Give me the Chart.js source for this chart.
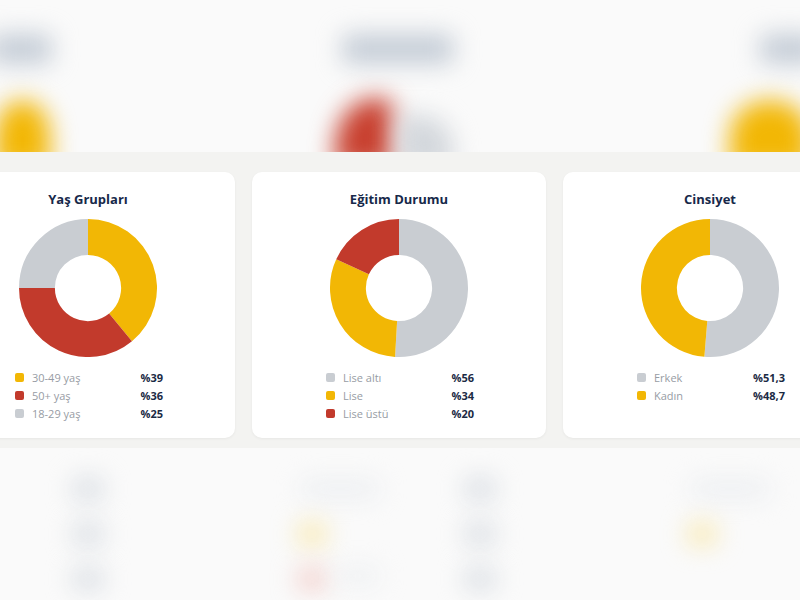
<!DOCTYPE html>
<html>
<head>
<meta charset="utf-8">
<script src="https://cdn.jsdelivr.net/npm/chart.js@4.4.0/dist/chart.umd.min.js"></script>
<style>
    html, body { margin: 0; padding: 0; }
    body {
        width: 800px; height: 600px; overflow: hidden; position: relative;
        background: #fafafa;
        font-family: "Open Sans", "Noto Sans", sans-serif;
    }
    .blob { position: absolute; filter: blur(12px); border-radius: 8px; }
    .band {
        position: absolute; left: 0; top: 152px; width: 800px; height: 296px;
        background: #f3f3f1;
    }
    .card {
        position: absolute; top: 172px; width: 294px; height: 266px;
        background: #fff; border-radius: 10px;
        box-shadow: 0 1px 3px rgba(0, 0, 0, 0.05);
    }
    .card h3 {
        margin: 0; position: absolute; top: 18px; width: 100%; text-align: center;
        font-size: 13px; font-weight: 700; color: #17294a;
    }
    .card .chartBox { position: absolute; left: 78px; top: 47px; width: 138px; height: 138px; }
    .legend { position: absolute; left: 74px; top: 196px; width: 148px; }
    .row { height: 18px; display: flex; align-items: center; font-size: 11px; }
    .sw { width: 9px; height: 9px; border-radius: 2px; margin-right: 8px; }
    .lbl { color: #979ca4; flex: 1; }
    .val { color: #1b2a44; font-weight: 700; }
</style>
</head>
<body>
<!-- blurred page behind -->
<div class="blob" style="left:-10px;top:34px;width:62px;height:30px;background:#c4ccd6"></div>
<div class="blob" style="left:342px;top:34px;width:112px;height:30px;background:#c4ccd6"></div>
<div class="blob" style="left:760px;top:34px;width:60px;height:30px;background:#c4ccd6"></div>
<div class="blob" style="left:-5px;top:100px;width:55px;height:70px;background:#f2b705;border-radius:50% 50% 0 0"></div>
<div class="blob" style="left:335px;top:98px;width:58px;height:70px;background:#c8402f;border-radius:70% 20% 0 0"></div>
<div class="blob" style="left:398px;top:115px;width:55px;height:55px;background:#d3d7dc;border-radius:0 60% 0 0"></div>
<div class="blob" style="left:730px;top:100px;width:80px;height:70px;background:#f2b705;border-radius:50% 50% 0 0"></div>

<div class="blob" style="left:72px;top:477px;width:32px;height:24px;background:#dce0e5"></div>
<div class="blob" style="left:72px;top:522px;width:32px;height:24px;background:#dce0e5"></div>
<div class="blob" style="left:72px;top:567px;width:32px;height:24px;background:#dce0e5"></div>
<div class="blob" style="left:300px;top:480px;width:80px;height:18px;background:#eceef1"></div>
<div class="blob" style="left:297px;top:522px;width:30px;height:24px;background:#f9eab6"></div>
<div class="blob" style="left:297px;top:567px;width:30px;height:24px;background:#f3d2ce"></div>
<div class="blob" style="left:335px;top:567px;width:45px;height:18px;background:#eef0f2"></div>
<div class="blob" style="left:464px;top:477px;width:32px;height:24px;background:#dce0e5"></div>
<div class="blob" style="left:464px;top:522px;width:32px;height:24px;background:#dce0e5"></div>
<div class="blob" style="left:464px;top:567px;width:32px;height:24px;background:#dce0e5"></div>
<div class="blob" style="left:690px;top:480px;width:80px;height:18px;background:#eceef1"></div>
<div class="blob" style="left:687px;top:522px;width:30px;height:24px;background:#f9eab6"></div>

<div class="band"></div>

<div class="card" style="left:-59px">
    <h3>Yaş Grupları</h3>
    <div class="chartBox"><canvas id="chart1"></canvas></div>
    <div class="legend" id="legend1"></div>
</div>
<div class="card" style="left:252px">
    <h3>Eğitim Durumu</h3>
    <div class="chartBox"><canvas id="chart2"></canvas></div>
    <div class="legend" id="legend2"></div>
</div>
<div class="card" style="left:563px">
    <h3>Cinsiyet</h3>
    <div class="chartBox"><canvas id="chart3"></canvas></div>
    <div class="legend" id="legend3"></div>
</div>

<script>
var yellow = '#f2b705';
var red = '#c23a2c';
var grey = '#c9cdd2';

var ageLabels = ['30-49 yaş', '50+ yaş', '18-29 yaş'];
var ageValues = [39, 36, 25];
var ageText = ['%39', '%36', '%25'];
var ageColors = [yellow, red, grey];

var eduLabels = ['Lise altı', 'Lise', 'Lise üstü'];
var eduValues = [56, 34, 20];
var eduText = ['%56', '%34', '%20'];
var eduColors = [grey, yellow, red];

var sexLabels = ['Erkek', 'Kadın'];
var sexValues = [51.3, 48.7];
var sexText = ['%51,3', '%48,7'];
var sexColors = [grey, yellow];

function makeDonut(id, labels, values, colors) {
    var ctx = document.getElementById(id).getContext('2d');
    return new Chart(ctx, {
        type: 'doughnut',
        data: {
            labels: labels,
            datasets: [{
                data: values,
                backgroundColor: colors,
                borderWidth: 0
            }]
        },
        options: {
            responsive: true,
            maintainAspectRatio: false,
            animation: false,
            cutout: '48%',
            events: [],
            plugins: {
                legend: { display: false },
                tooltip: { enabled: false }
            }
        }
    });
}

function makeLegend(id, labels, texts, colors) {
    var box = document.getElementById(id);
    labels.forEach(function (l, i) {
        var row = document.createElement('div');
        row.className = 'row';
        row.innerHTML = '<span class="sw" style="background:' + colors[i] + '"></span>' +
            '<span class="lbl">' + l + '</span><span class="val">' + texts[i] + '</span>';
        box.appendChild(row);
    });
}

makeDonut('chart1', ageLabels, ageValues, ageColors);
makeDonut('chart2', eduLabels, eduValues, eduColors);
makeDonut('chart3', sexLabels, sexValues, sexColors);
makeLegend('legend1', ageLabels, ageText, ageColors);
makeLegend('legend2', eduLabels, eduText, eduColors);
makeLegend('legend3', sexLabels, sexText, sexColors);
</script>
</body>
</html>
